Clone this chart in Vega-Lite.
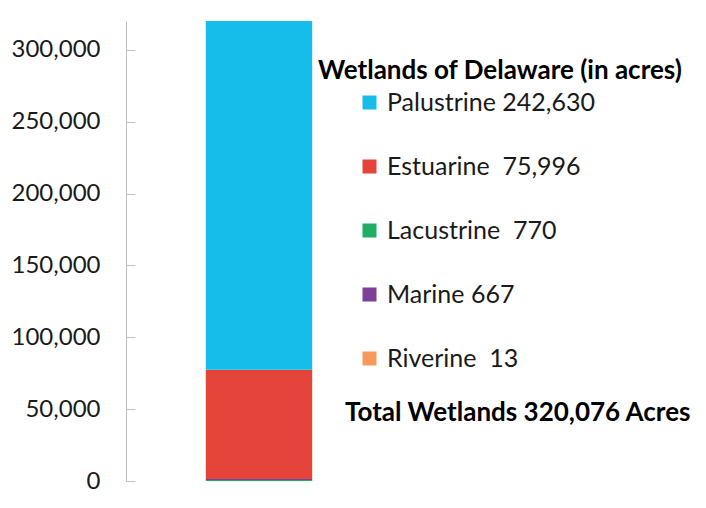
{
  "$schema": "https://vega.github.io/schema/vega-lite/v6.json",
  "width": 266,
  "height": 460,
  "autosize": {"type": "none"},
  "padding": {"left": 126, "top": 21, "right": 314, "bottom": 27},
  "background": "white",
  "config": {"view": {"stroke": null}, "font": "Lato"},
  "title": {
    "text": "Total Wetlands 320,076 Acres",
    "orient": "bottom",
    "anchor": "start",
    "frame": "group",
    "dx": 219,
    "offset": -93,
    "fontSize": 26,
    "fontWeight": "bold",
    "font": "Lato",
    "color": "black"
  },
  "data": {
    "values": [
      {"state": "Delaware", "type": "Lacustrine", "label": "Lacustrine\u00a0 770", "acres": 770, "rank": 1},
      {"state": "Delaware", "type": "Marine", "label": "Marine 667", "acres": 667, "rank": 2},
      {"state": "Delaware", "type": "Riverine", "label": "Riverine\u00a0 13", "acres": 13, "rank": 3},
      {"state": "Delaware", "type": "Estuarine", "label": "Estuarine\u00a0 75,996", "acres": 75996, "rank": 4},
      {"state": "Delaware", "type": "Palustrine", "label": "Palustrine 242,630", "acres": 242630, "rank": 5}
    ]
  },
  "mark": {"type": "bar"},
  "encoding": {
    "x": {
      "field": "state",
      "type": "nominal",
      "axis": null,
      "scale": {"paddingInner": 0.6, "paddingOuter": 0.3}
    },
    "y": {
      "field": "acres",
      "type": "quantitative",
      "stack": "zero",
      "scale": {"domain": [0, 320076], "nice": false},
      "axis": {
        "title": null,
        "values": [0, 50000, 100000, 150000, 200000, 250000, 300000],
        "format": ",.0f",
        "grid": false,
        "labelFont": "Lato",
        "labelFontSize": 24,
        "labelColor": "#1a1a1a",
        "domainColor": "#C0C0C0",
        "tickColor": "#C0C0C0",
        "tickSize": -9,
        "labelPadding": 35
      }
    },
    "order": {"field": "rank", "type": "quantitative"},
    "color": {
      "field": "label",
      "type": "nominal",
      "scale": {
        "domain": ["Palustrine 242,630", "Estuarine\u00a0 75,996", "Lacustrine\u00a0 770", "Marine 667", "Riverine\u00a0 13"],
        "range": ["#16BDEB", "#E5443A", "#1FAE64", "#7D3F98", "#F79A5C"]
      },
      "legend": {
        "orient": "none",
        "legendX": 192,
        "legendY": 37,
        "padding": 0,
        "title": "Wetlands of Delaware (in acres)",
        "titleFont": "Lato",
        "titleFontSize": 26,
        "titleFontWeight": "bold",
        "titleColor": "black",
        "titlePadding": 6,
        "titleLimit": 500,
        "labelFont": "Lato",
        "labelFontSize": 25,
        "labelColor": "#1a1a1a",
        "labelLimit": 400,
        "symbolType": "square",
        "symbolSize": 196,
        "symbolStrokeWidth": 0,
        "symbolOffset": 39,
        "labelOffset": 5,
        "rowPadding": 38
      }
    }
  }
}
